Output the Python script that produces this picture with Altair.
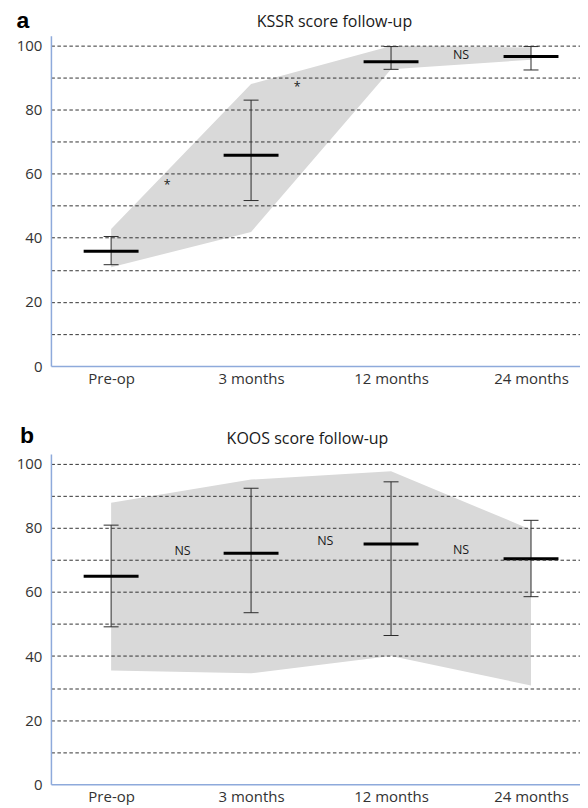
import json
import altair as alt
import pandas as pd

categories = ['Pre-op', '3 months', '12 months', '24 months']
positions = [0, 1, 2, 3]

# KSSR panel (a)
kssr_mean = [35.8, 65.7, 94.9, 96.5]
kssr_err_low = [31.6, 51.6, 92.5, 92.3]
kssr_err_high = [40.4, 82.9, 99.6, 99.6]
kssr_band_low = [30.8, 41.8, 92.5, 95.5]
kssr_band_high = [42.7, 87.9, 99.8, 99.3]
kssr_ann_text = ['*', '*', 'NS']
kssr_ann_x = [0.40, 1.33, 2.50]
kssr_ann_y = [56.5, 87.0, 97.0]

# KOOS panel (b)
koos_mean = [64.9, 72.0, 74.9, 70.3]
koos_err_low = [49.1, 53.5, 46.4, 58.5]
koos_err_high = [80.8, 92.3, 94.3, 82.3]
koos_band_low = [35.5, 34.6, 40.0, 30.8]
koos_band_high = [87.8, 95.0, 97.6, 79.4]
koos_ann_text = ['NS', 'NS', 'NS']
koos_ann_x = [0.51, 1.53, 2.50]
koos_ann_y = [72.7, 75.8, 73.2]

y_ticks = list(range(0, 101, 10))

FONT = 'Open Sans'
AXIS_BLUE = '#8eaadb'
label_expr = json.dumps(categories) + '[datum.value]'

xscale = alt.Scale(domain=[-0.43, 3.35], nice=False, zero=False)
yscale = alt.Scale(domain=[0, 103], nice=False, zero=True)

xaxis = alt.Axis(values=positions, labelExpr=label_expr, grid=False, ticks=False,
                 domainColor=AXIS_BLUE, domainWidth=1.5, labelFont=FONT,
                 labelFontSize=15, labelColor='#333333', labelPadding=5, title=None)
yaxis = alt.Axis(values=y_ticks, labelExpr="datum.value % 20 == 0 ? datum.label : ''",
                 ticks=False, domainColor=AXIS_BLUE, domainWidth=1.5,
                 labelFont=FONT, labelFontSize=15, labelColor='#333333', labelPadding=9,
                 grid=True, gridColor='#333333', gridDash=[3.5, 2.5], gridWidth=1,
                 gridOpacity=alt.condition('datum.value == 0', alt.value(0), alt.value(1)),
                 zindex=1, title=None)


def panel(title, tx, ty, letter, lx, ly, mean, lo, hi, blo, bhi, at, ax, ay):
    df = pd.DataFrame({'pos': positions, 'mean': mean, 'lo': lo, 'hi': hi,
                       'blo': blo, 'bhi': bhi})
    ann = pd.DataFrame({'t': at, 'x': ax, 'y': ay})
    base = alt.Chart(df)
    X = alt.X('pos:Q', scale=xscale, axis=xaxis)

    area = base.mark_area(color='#d9d9d9', opacity=1).encode(
        x=X, y=alt.Y('blo:Q', scale=yscale, axis=yaxis), y2='bhi:Q')
    rule = base.mark_rule(color='#2b2b2b', strokeWidth=1).encode(
        x=X, y=alt.Y('lo:Q', scale=yscale, axis=yaxis), y2='hi:Q')
    cap_lo = base.mark_tick(orient='horizontal', size=15, thickness=1, color='#2b2b2b',
                            opacity=1).encode(
        x=X, y=alt.Y('lo:Q', scale=yscale, axis=yaxis))
    cap_hi = base.mark_tick(orient='horizontal', size=15, thickness=1, color='#2b2b2b',
                            opacity=1).encode(
        x=X, y=alt.Y('hi:Q', scale=yscale, axis=yaxis))
    means = base.mark_tick(orient='horizontal', size=55, thickness=3, color='#000000',
                           opacity=1).encode(
        x=X, y=alt.Y('mean:Q', scale=yscale, axis=yaxis))
    text = alt.Chart(ann).mark_text(font=FONT, fontSize=12.5, color='#1a1a1a',
                                    align='center', baseline='middle').encode(
        x=alt.X('x:Q', scale=xscale, axis=xaxis),
        y=alt.Y('y:Q', scale=yscale, axis=yaxis), text='t:N')
    lett = alt.Chart(pd.DataFrame({'t': [letter]})).mark_text(
        font='Liberation Sans', fontSize=23, fontWeight='bold', color='#000000',
        align='center', baseline='alphabetic').encode(
        x=alt.value(lx), y=alt.value(ly), text='t:N')
    ttl = alt.Chart(pd.DataFrame({'t': [title]})).mark_text(
        font=FONT, fontSize=16, color='#1a1a1a',
        align='center', baseline='alphabetic').encode(
        x=alt.value(tx), y=alt.value(ty), text='t:N')
    return alt.layer(area, rule, cap_lo, cap_hi, means, text, lett, ttl).properties(
        width=530, height=331)


top = panel('KSSR score follow-up', 284, -9, 'a', -28, -8,
            kssr_mean, kssr_err_low, kssr_err_high, kssr_band_low, kssr_band_high,
            kssr_ann_text, kssr_ann_x, kssr_ann_y)
bottom = panel('KOOS score follow-up', 257, -10, 'b', -24, -11,
               koos_mean, koos_err_low, koos_err_high, koos_band_low, koos_band_high,
               koos_ann_text, koos_ann_x, koos_ann_y)

chart = alt.vconcat(top, bottom, spacing=39).properties(
    padding={'left': 8, 'top': 1, 'right': 0, 'bottom': 0},
    background='white'
).configure_view(stroke=None)

chart.save('out.html', embed_options={'renderer': 'svg', 'actions': False})
